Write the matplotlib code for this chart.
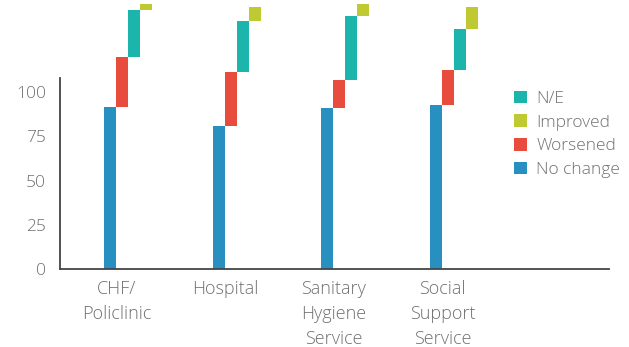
import matplotlib
matplotlib.use("Agg")
import matplotlib.pyplot as plt
import numpy as np

plt.rcParams['font.family'] = ['Open Sans', 'DejaVu Sans']

categories = ["CHF/\nPoliclinic", "Hospital", "Sanitary\nHygiene\nService", "Social\nSupport\nService"]
no_change = [91.5, 80.8, 91.0, 92.7]
worsened = [28.3, 30.5, 15.8, 19.7]
n_e = [26.5, 28.8, 36.1, 23.2]
improved = [3.8, 7.9, 6.8, 12.4]
y_ticks = [0, 25, 50, 75, 100]

colors = {"No change": "#2790c0", "Worsened": "#e74c3c",
          "N/E": "#1bb5ab", "Improved": "#bfca33"}
text_color = '#707070'

fig = plt.figure(figsize=(6.29, 3.47), dpi=100)
ax = fig.add_axes([60 / 629, 78 / 347, 549 / 629, 191 / 347])

x = np.arange(len(categories))
w = 0.11
series = [("No change", no_change), ("Worsened", worsened),
          ("N/E", n_e), ("Improved", improved)]

# each segment sits on top of the previous one, shifted one bar width right
bottom = np.zeros(len(categories))
handles = {}
for k, (name, vals) in enumerate(series):
    vals = np.array(vals)
    b = ax.bar(x + k * w, vals, width=w, bottom=bottom, color=colors[name],
               clip_on=False, label=name, linewidth=0)
    handles[name] = b
    bottom = bottom + vals

ax.set_xlim(-0.46, 4.59)
ax.set_ylim(0, 108)
ax.set_yticks(y_ticks)
ax.set_yticklabels([str(t) for t in y_ticks])
ax.tick_params(axis='y', length=0, pad=10, labelsize=12.5, labelcolor=text_color)
ax.tick_params(axis='x', length=0, pad=8, labelsize=13, labelcolor=text_color)
ax.set_xticks(x + 0.06)
ax.set_xticklabels(categories, linespacing=1.5)
for lab in ax.get_xticklabels() + ax.get_yticklabels():
    lab.set_fontweight('light')

for s in ['top', 'right']:
    ax.spines[s].set_visible(False)
ax.spines['left'].set_color('#444444')
ax.spines['bottom'].set_color('#444444')
ax.spines['left'].set_linewidth(1.3)
ax.spines['bottom'].set_linewidth(1.3)

order = ["N/E", "Improved", "Worsened", "No change"]
leg = fig.legend([handles[n] for n in order], order, loc='upper left',
                 bbox_to_anchor=(498 / 629, 1 - 75 / 347), frameon=False,
                 handlelength=0.75, handleheight=0.75, handletextpad=0.55,
                 labelspacing=0.42, fontsize=12.5, labelcolor=text_color)
for t in leg.get_texts():
    t.set_fontweight('light')

fig.savefig("out.png", dpi=100)
